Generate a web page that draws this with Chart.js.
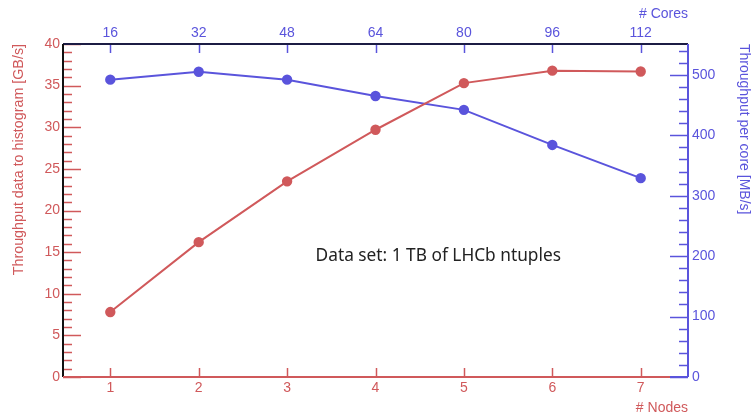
<!DOCTYPE html>
<html>
<head>
<meta charset="utf-8">
<script src="https://cdn.jsdelivr.net/npm/chart.js@4.4.1/dist/chart.umd.min.js"></script>
<style>
  html, body { margin: 0; padding: 0; background: #ffffff; }
  #wrap { width: 752px; height: 416px; }
</style>
</head>
<body>
<div id="wrap"><canvas id="chart" width="752" height="416"></canvas></div>
<script>
// Node scaling data
const nodes = [1, 2, 3, 4, 5, 6, 7];
const cores = [16, 32, 48, 64, 80, 96, 112];
const throughputGBs = [7.8, 16.2, 23.5, 29.7, 35.3, 36.8, 36.7];
const perCoreMBs = [492, 505, 492, 465, 442, 384, 329];
const leftTicks = [0, 5, 10, 15, 20, 25, 30, 35, 40];
const rightTicks = [0, 100, 200, 300, 400, 500];

const RED = '#d0595b';
const BLUE = '#5a54dc';
const FONT = "'Liberation Sans', Arial, sans-serif";
const note = { text: 'Data set: 1 TB of LHCb ntuples', x: 4.71, y: 14.5 };

const fixed = (w, h) => (s) => { if (w != null) s.width = w; if (h != null) s.height = h; };

// frame + inward tick marks, minor ticks included
const axesPlugin = {
    id: 'axesPlugin',
    beforeDatasetsDraw(chart) {
        const { ctx, chartArea: a, scales } = chart;
        const line = (x1, y1, x2, y2, color, w) => {
            ctx.strokeStyle = color;
            ctx.lineWidth = w;
            ctx.beginPath();
            ctx.moveTo(x1, y1);
            ctx.lineTo(x2, y2);
            ctx.stroke();
        };
        ctx.save();
        // left ticks
        for (let v = 0; v <= 40; v += 1) {
            const y = Math.round(scales.y.getPixelForValue(v)) + 0.5;
            line(a.left, y, a.left + (v % 5 === 0 ? 18 : 9), y, RED, 1.5);
        }
        // right ticks
        for (let v = 0; v <= 540; v += 20) {
            const y = Math.round(scales.y1.getPixelForValue(v)) + 0.5;
            line(a.right, y, a.right - (v % 100 === 0 ? 18 : 9), y, BLUE, 1.5);
        }
        // bottom / top ticks
        nodes.forEach(n => {
            const x = Math.round(scales.x.getPixelForValue(n)) + 0.5;
            line(x, a.bottom, x, a.bottom - 9, RED, 1.5);
            line(x, a.top, x, a.top + 9, BLUE, 1.5);
        });
        // frame
        line(a.left, a.top, a.right, a.top, '#1c1c44', 2);
        line(a.left, a.top, a.left, a.bottom, '#111111', 2);
        line(a.left, a.bottom, a.right - 18, a.bottom, RED, 2);
        line(a.right - 18, a.bottom, a.right, a.bottom, BLUE, 2);
        line(a.right, a.top, a.right, a.bottom, BLUE, 2);
        // annotation
        ctx.fillStyle = '#222222';
        ctx.font = "17.3px 'Noto Sans', sans-serif";
        ctx.textAlign = 'center';
        ctx.textBaseline = 'middle';
        ctx.fillText(note.text, scales.x.getPixelForValue(note.x), scales.y.getPixelForValue(note.y));
        ctx.restore();
    }
};

new Chart(document.getElementById('chart'), {
    type: 'line',
    data: {
        datasets: [
            {
                label: 'Throughput data to histogram',
                data: nodes.map((n, i) => ({ x: n, y: throughputGBs[i] })),
                borderColor: RED,
                backgroundColor: RED,
                borderWidth: 2,
                pointRadius: 4.2,
                xAxisID: 'x',
                yAxisID: 'y'
            },
            {
                label: 'Throughput per core',
                data: nodes.map((n, i) => ({ x: n, y: perCoreMBs[i] })),
                borderColor: BLUE,
                backgroundColor: BLUE,
                borderWidth: 2,
                pointRadius: 4.2,
                xAxisID: 'x',
                yAxisID: 'y1'
            }
        ]
    },
    options: {
        responsive: false,
        animation: false,
        layout: { padding: 0 },
        plugins: { legend: { display: false }, tooltip: { enabled: false } },
        scales: {
            x: {
                type: 'linear', position: 'bottom', min: 0.465, max: 7.535,
                afterBuildTicks: s => { s.ticks = nodes.map(v => ({ value: v })); },
                afterFit: fixed(null, 39),
                grid: { display: false, drawTicks: false },
                border: { display: false },
                ticks: { color: RED, font: { family: FONT, size: 14 }, padding: 3 },
                title: { display: true, text: '# Nodes', align: 'end', color: RED,
                         font: { family: FONT, size: 14 }, padding: { top: 0, bottom: -1 } }
            },
            x2: {
                type: 'linear', position: 'top', min: 0.465, max: 7.535,
                afterBuildTicks: s => { s.ticks = nodes.map(v => ({ value: v })); },
                afterFit: fixed(null, 44),
                grid: { display: false, drawTicks: false },
                border: { display: false },
                ticks: { color: BLUE, font: { family: FONT, size: 14 }, padding: 2,
                         callback: (v) => cores[nodes.indexOf(v)] },
                title: { display: true, text: '# Cores', align: 'end', color: BLUE,
                         font: { family: FONT, size: 14 }, padding: { top: 6, bottom: 0 } }
            },
            y: {
                type: 'linear', position: 'left', min: 0, max: 40,
                afterBuildTicks: s => { s.ticks = leftTicks.map(v => ({ value: v })); },
                afterFit: fixed(63, null),
                grid: { display: false, drawTicks: false },
                border: { display: false },
                ticks: { color: RED, font: { family: FONT, size: 14 }, padding: 3 },
                title: { display: true, text: 'Throughput data to histogram [GB/s]', align: 'end', color: RED,
                         font: { family: FONT, size: 14.3 }, padding: { top: 10, bottom: 0 } }
            },
            y1: {
                type: 'linear', position: 'right', min: 0, max: 551,
                afterBuildTicks: s => { s.ticks = rightTicks.map(v => ({ value: v })); },
                afterFit: fixed(64, null),
                grid: { display: false, drawTicks: false },
                border: { display: false },
                ticks: { color: BLUE, font: { family: FONT, size: 14 }, padding: 4 },
                title: { display: true, text: 'Throughput per core [MB/s]', align: 'end', color: BLUE,
                         font: { family: FONT, size: 14 }, padding: { top: 0, bottom: 0 } }
            }
        }
    },
    plugins: [axesPlugin]
});
</script>
</body>
</html>
